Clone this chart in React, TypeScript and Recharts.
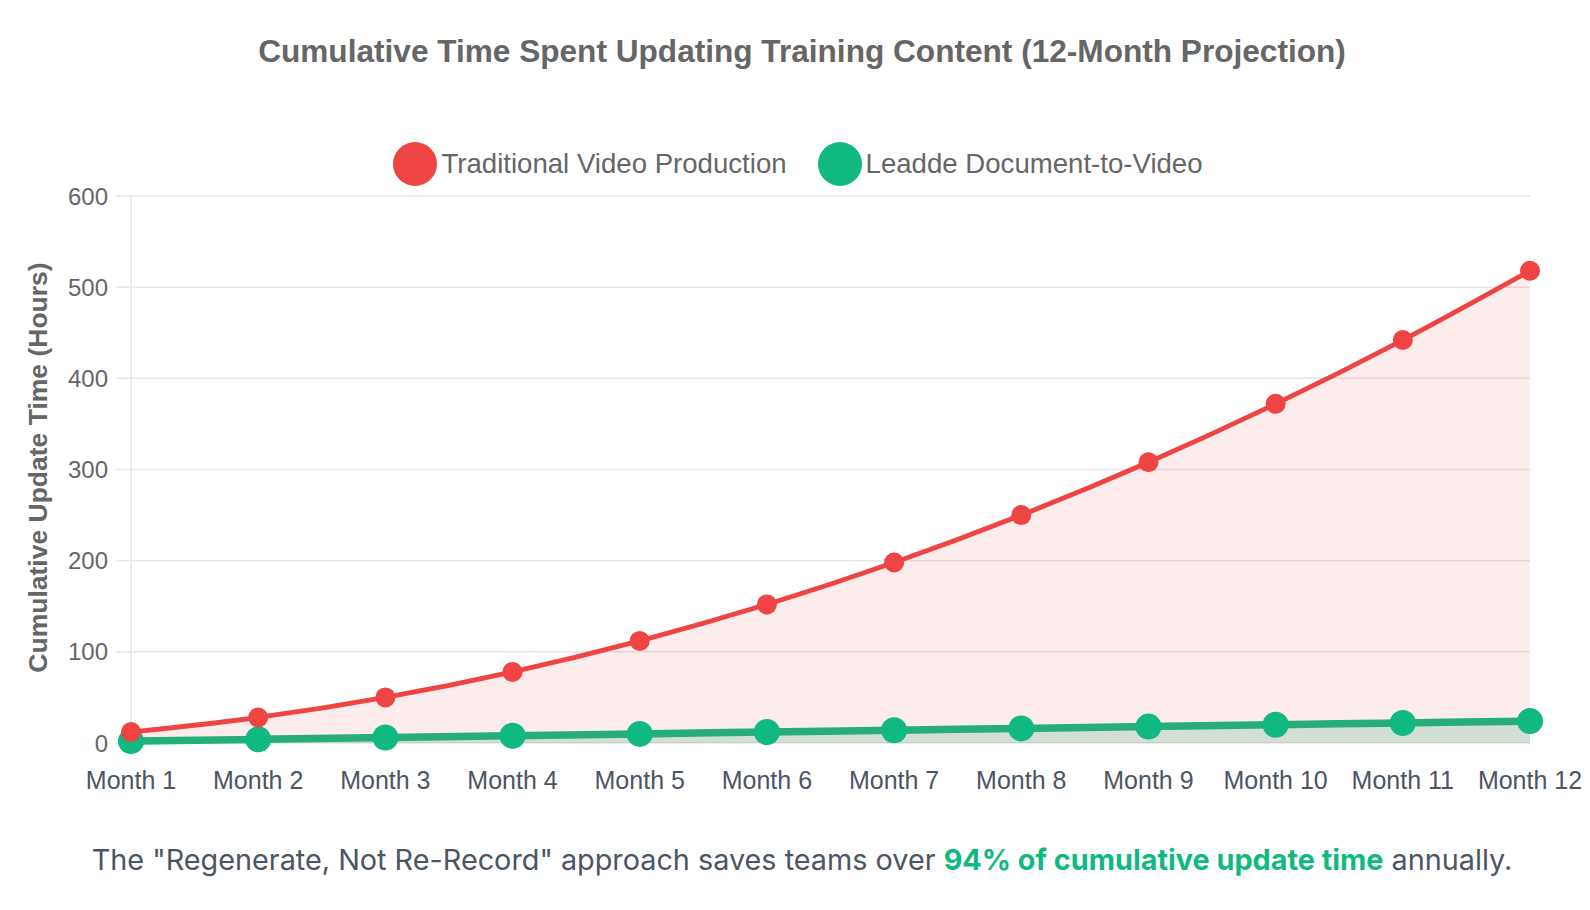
import { Area, AreaChart, CartesianGrid, XAxis, YAxis } from "recharts";

const MONTHS = [
  "Month 1", "Month 2", "Month 3", "Month 4", "Month 5", "Month 6",
  "Month 7", "Month 8", "Month 9", "Month 10", "Month 11", "Month 12",
];
const TRADITIONAL_HOURS = [12, 28, 50, 78, 112, 152, 198, 250, 308, 372, 442, 518];
const LEADDE_HOURS = [2, 4, 6, 8, 10, 12, 14, 16, 18, 20, 22, 24];
const Y_TICKS = [0, 100, 200, 300, 400, 500, 600];

const SERIES = [
  { key: "traditional", name: "Traditional Video Production", color: "#ef4444" },
  { key: "leadde", name: "Leadde Document-to-Video", color: "#10b981" },
];

const FONT = '"Liberation Sans", Arial, Helvetica, sans-serif';

const data = MONTHS.map((month, i) => ({
  month,
  traditional: TRADITIONAL_HOURS[i],
  leadde: LEADDE_HOURS[i],
}));

function YTitle({ viewBox }: any) {
  const x = viewBox.x + 16;
  const y = viewBox.y + viewBox.height / 2 - 2;
  return (
    <text
      x={x}
      y={y}
      transform={`rotate(-90, ${x}, ${y})`}
      textAnchor="middle"
      fontFamily={FONT}
      fontSize={26.5}
      fontWeight="bold"
      fill="#666"
    >
      Cumulative Update Time (Hours)
    </text>
  );
}

export default function App() {
  return (
    <div
      style={{
        position: "absolute",
        left: 0,
        top: 0,
        width: 1590,
        height: 910,
        background: "#fff",
        fontFamily: FONT,
        overflow: "hidden",
      }}
    >
      <div
        style={{
          position: "absolute",
          top: 35,
          left: 0,
          width: 1604,
          textAlign: "center",
          fontSize: 31.6,
          lineHeight: "32px",
          fontWeight: "bold",
          color: "#666",
        }}
      >
        Cumulative Time Spent Updating Training Content (12-Month Projection)
      </div>

      <div
        style={{
          position: "absolute",
          top: 142,
          left: 0,
          width: 1596,
          display: "flex",
          justifyContent: "center",
          alignItems: "center",
          gap: 31,
        }}
      >
        {SERIES.map((s) => (
          <div key={s.key} style={{ display: "flex", alignItems: "center" }}>
            <span
              style={{
                width: 44,
                height: 44,
                borderRadius: "50%",
                background: s.color,
                marginRight: 4,
                display: "inline-block",
              }}
            />
            <span style={{ fontSize: 27.6, color: "#666" }}>{s.name}</span>
          </div>
        ))}
      </div>

      <div style={{ position: "absolute", left: 0, top: 0 }}>
        <AreaChart
          width={1590}
          height={910}
          data={data}
          margin={{ top: 196, right: 60, bottom: 107, left: 31 }}
        >
          <CartesianGrid vertical={false} stroke="#e6e6e6" strokeWidth={1.5} />
          <XAxis
            dataKey="month"
            height={60}
            axisLine={false}
            tickLine={false}
            tickSize={6}
            tickMargin={22}
            interval={0}
            tick={{ fill: "#4b5563", fontSize: 25, fontFamily: FONT }}
          />
          <YAxis
            width={100}
            domain={[0, 600]}
            ticks={Y_TICKS}
            tickSize={15}
            tickMargin={8}
            axisLine={{ stroke: "#e6e6e6", strokeWidth: 1.5 }}
            tickLine={{ stroke: "#e6e6e6", strokeWidth: 1.5 }}
            tick={{ fill: "#666", fontSize: 24, fontFamily: FONT }}
            label={<YTitle />}
          />
          <Area
            type="monotone"
            dataKey="leadde"
            name={SERIES[1].name}
            stroke={SERIES[1].color}
            strokeWidth={7.5}
            fill={SERIES[1].color}
            fillOpacity={0.2}
            dot={{ r: 13, fill: SERIES[1].color, stroke: SERIES[1].color, strokeWidth: 0, fillOpacity: 1 }}
            activeDot={false}
            isAnimationActive={false}
          />
          <Area
            type="monotone"
            dataKey="traditional"
            name={SERIES[0].name}
            stroke={SERIES[0].color}
            strokeWidth={4.8}
            fill={SERIES[0].color}
            fillOpacity={0.1}
            dot={{ r: 10, fill: SERIES[0].color, stroke: SERIES[0].color, strokeWidth: 0, fillOpacity: 1 }}
            activeDot={false}
            isAnimationActive={false}
          />
        </AreaChart>
      </div>

      <div
        style={{
          position: "absolute",
          top: 843,
          left: 0,
          width: 1604,
          textAlign: "center",
          fontFamily: 'Inter, "Noto Sans", sans-serif',
          fontSize: 28.8,
          lineHeight: "34px",
          color: "#4b5563",
        }}
      >
        The "Regenerate, Not Re-Record" approach saves teams over{" "}
        <span style={{ color: "#10b981", fontWeight: "bold" }}>94% of cumulative update time</span>{" "}
        annually.
      </div>
    </div>
  );
}
